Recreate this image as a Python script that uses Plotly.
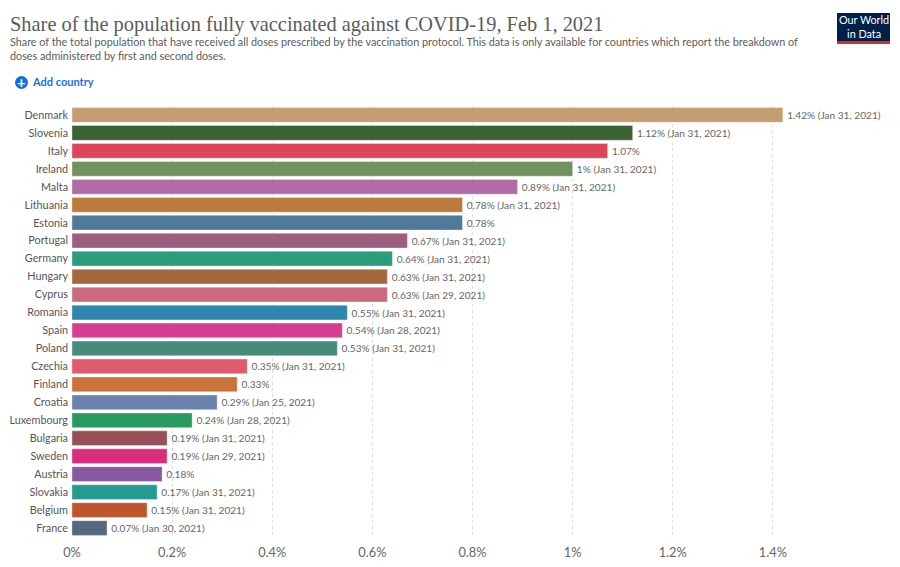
import plotly.graph_objects as go

countries = ["Denmark", "Slovenia", "Italy", "Ireland", "Malta", "Lithuania", "Estonia", "Portugal",
             "Germany", "Hungary", "Cyprus", "Romania", "Spain", "Poland", "Czechia", "Finland",
             "Croatia", "Luxembourg", "Bulgaria", "Sweden", "Austria", "Slovakia", "Belgium", "France"]
shares = [1.42, 1.12, 1.07, 1.0, 0.89, 0.78, 0.78, 0.67, 0.64, 0.63, 0.63, 0.55,
          0.54, 0.53, 0.35, 0.33, 0.29, 0.24, 0.19, 0.19, 0.18, 0.17, 0.15, 0.07]
share_labels = ["1.42%", "1.12%", "1.07%", "1%", "0.89%", "0.78%", "0.78%", "0.67%",
                "0.64%", "0.63%", "0.63%", "0.55%", "0.54%", "0.53%", "0.35%", "0.33%",
                "0.29%", "0.24%", "0.19%", "0.19%", "0.18%", "0.17%", "0.15%", "0.07%"]
dates = ["Jan 31, 2021", "Jan 31, 2021", "", "Jan 31, 2021", "Jan 31, 2021", "Jan 31, 2021", "",
         "Jan 31, 2021", "Jan 31, 2021", "Jan 31, 2021", "Jan 29, 2021", "Jan 31, 2021",
         "Jan 28, 2021", "Jan 31, 2021", "Jan 31, 2021", "", "Jan 25, 2021", "Jan 28, 2021",
         "Jan 31, 2021", "Jan 29, 2021", "", "Jan 31, 2021", "Jan 31, 2021", "Jan 30, 2021"]
colors = ["#C49D72", "#3C6132", "#DD465A", "#6F925E", "#AF6CA8", "#BC7A3C", "#4F7A9B", "#9C5F7E",
          "#2B9C7C", "#A4683F", "#CB6A7D", "#2F86AC", "#D4408F", "#4A8A7A", "#E05A6E", "#C9733B",
          "#6A82AC", "#2B9A62", "#965058", "#D92E7C", "#8659A0", "#259A90", "#BE552B", "#556880"]

tick_vals = [0, 0.2, 0.4, 0.6, 0.8, 1.0, 1.2, 1.4]
tick_text = ["0%", "0.2%", "0.4%", "0.6%", "0.8%", "1%", "1.2%", "1.4%"]

title = "Share of the population fully vaccinated against COVID-19, Feb 1, 2021"
subtitle = ("Share of the total population that have received all doses prescribed by the vaccination "
            "protocol. This data is only available for countries which report the breakdown of<br>"
            "doses administered by first and second doses.")

bar_text = ["\u2009" + (f"{s} ({d})" if d else s) for s, d in zip(share_labels, dates)]

# the page body adds an 8px margin, so the figure is a bit smaller than the window
PAGE_MARGIN = 8
W, H = 900 - PAGE_MARGIN, 567 - PAGE_MARGIN
LEFT, TOP, BOTTOM = 72 - PAGE_MARGIN, 106 - PAGE_MARGIN, 30
plot_w, plot_h = W - LEFT, H - TOP - BOTTOM


# window pixels to paper coordinates
def xp(x):
    return (x - PAGE_MARGIN - LEFT) / plot_w


def yp(y):
    return (H - BOTTOM - (y - PAGE_MARGIN)) / plot_h


fig = go.Figure(go.Bar(
    x=shares,
    y=countries,
    orientation="h",
    marker=dict(color=colors, line=dict(color="rgba(255,255,255,0.35)", width=1)),
    text=bar_text,
    textposition="outside",
    textfont=dict(size=10.1, color="#666666"),
    cliponaxis=False,
))

fig.update_layout(
    width=W,
    height=H,
    margin=dict(l=LEFT, r=0, t=TOP, b=BOTTOM),
    paper_bgcolor="white",
    plot_bgcolor="white",
    font=dict(family="Lato", color="#666666"),
    bargap=0.18,
    showlegend=False,
    xaxis=dict(range=[0, 1.654], tickvals=tick_vals, ticktext=tick_text,
               tickfont=dict(size=12.8, color="#666666"), showgrid=True,
               gridcolor="#dddddd", griddash="3px,3px", gridwidth=1, zeroline=False,
               showline=False, ticks="", ticklabelstandoff=6),
    yaxis=dict(autorange="reversed", tickfont=dict(size=10.8, color="#555555"),
               ticks="", showgrid=False, showline=False, zeroline=False, ticklabelstandoff=3),
)

fig.add_shape(type="rect", xref="paper", yref="paper", x0=xp(837), x1=xp(890), y0=yp(44), y1=yp(13),
              fillcolor="#002147", line_width=0)
fig.add_shape(type="rect", xref="paper", yref="paper", x0=xp(837), x1=xp(890), y0=yp(44), y1=yp(41),
              fillcolor="#DC2E1C", line_width=0)
fig.add_shape(type="circle", xref="paper", yref="paper", x0=xp(15), x1=xp(28), y0=yp(89), y1=yp(76),
              fillcolor="#0F6FE0", line_width=0)

for text, x, y, size, color, family, anchor in [
    (title, 10, 24, 20.4, "#5b5b5b", "Liberation Serif", "left"),
    (subtitle, 10, 49, 10.8, "#5b5b5b", "Lato", "left"),
    ("<b>+</b>", 21.5, 82, 15, "white", "Lato", "center"),
    ("<b>Add country</b>", 32, 82, 11, "#1A6FE8", "Lato", "left"),
    ("Our World<br>in Data", 863.5, 27, 10.8, "white", "Lato", "center"),
]:
    fig.add_annotation(text=text, xref="paper", yref="paper", x=xp(x), y=yp(y), showarrow=False,
                       xanchor=anchor, yanchor="middle", align=anchor, borderpad=0, borderwidth=0,
                       font=dict(size=size, color=color, family=family))

fig.write_html("out.html")
